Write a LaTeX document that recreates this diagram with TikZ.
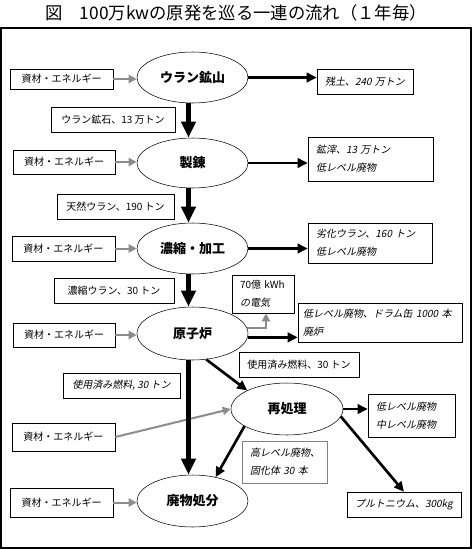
\documentclass[tikz,border=0pt]{standalone}
\usepackage{fontspec}
\usetikzlibrary{arrows.meta,shapes.geometric}
\newfontfamily\jp{Noto Sans CJK JP}
\newfontfamily\jpit[FakeSlant=0.2]{Noto Sans CJK JP}
\newdimen\pxu \pxu=0.75pt
\definecolor{flowgray}{RGB}{140,140,140}

\begin{document}
\begin{tikzpicture}[x=0.75pt,y=-0.75pt,
  stage/.style={draw, ellipse, inner sep=0pt, minimum width=111\pxu, minimum height=51\pxu, font=\jp\bfseries\fontsize{9.75}{11}\selectfont},
  box/.style={draw, inner sep=0pt, font=\jp\fontsize{7.5}{9}\selectfont},
  outbox/.style={draw, inner xsep=8\pxu, inner ysep=0pt, align=left, font=\jpit\fontsize{7.5}{13.5}\selectfont},
  mainflow/.style={line width=4pt, -{Triangle[width=10.5pt,length=12pt]}},
  waste/.style={line width=2pt, -{Triangle[width=7pt,length=7.5pt]}},
  feed/.style={draw=flowgray, line width=1.5pt, -{Triangle[width=6pt,length=6pt]}}]
\useasboundingbox (0,0) rectangle (473,550);
\node[font=\jp\fontsize{13}{15}\selectfont] (title) at (236,13) {図　100万kwの原発を巡る一連の流れ（１年毎）};
\draw[line width=0.9pt] (1,28) rectangle (471,548);

\node[stage] (1) at (192.5,77.5) {ウラン鉱山};
\node[stage, minimum height=50\pxu] (2) at (192.5,163) {製錬};
\node[stage] (3) at (192.5,248.5) {濃縮・加工};
\node[stage, minimum height=53\pxu] (4) at (192.5,333.5) {原子炉};
\node[stage, minimum width=112\pxu, minimum height=52\pxu] (5) at (287,409) {再処理};
\node[stage, minimum height=52\pxu] (6) at (192.5,501) {廃物処分};

\node[box, minimum width=103\pxu, minimum height=20\pxu] (s1) at (61.5,79) {資材・エネルギー};
\node[box, minimum width=102\pxu, minimum height=24\pxu] (s2) at (64,162) {資材・エネルギー};
\node[box, minimum width=103\pxu, minimum height=25\pxu] (s3) at (63.5,248.5) {資材・エネルギー};
\node[box, minimum width=102\pxu, minimum height=24\pxu] (s4) at (64,335) {資材・エネルギー};
\node[box, minimum width=103\pxu, minimum height=28\pxu] (s5) at (63.5,437) {資材・エネルギー};
\node[box, minimum width=103\pxu, minimum height=29\pxu] (s6) at (61.5,502.5) {資材・エネルギー};

\node[box, minimum width=124\pxu, minimum height=25\pxu] (f1) at (113,119.5) {ウラン鉱石、13 万トン};
\node[box, minimum width=117\pxu, minimum height=25\pxu] (f2) at (115.5,206.5) {天然ウラン、190 トン};
\node[box, minimum width=120\pxu, minimum height=25\pxu] (f3) at (114,290.5) {濃縮ウラン、30 トン};
\node[box, font=\jpit\fontsize{7.5}{9}\selectfont, minimum width=117\pxu, minimum height=25\pxu] (f4) at (121.5,385.5) {使用済み燃料, 30 トン};
\node[box, minimum width=120\pxu, minimum height=25\pxu] (f5) at (299,364.5) {使用済み燃料、30 トン};
\node[outbox, draw=gray, text width=69\pxu, minimum height=42\pxu] (f6) at (284.5,462) {高レベル廃物、\\固化体 30 本};

\node[outbox, text width=80\pxu, minimum height=25\pxu] (o1) at (365,81.5) {残土、240 万トン};
\node[outbox, text width=109\pxu, minimum height=44\pxu] (o2) at (370.5,159) {鉱滓、13 万トン\\低レベル廃物};
\node[outbox, text width=108\pxu, minimum height=40\pxu] (o3) at (370,243) {劣化ウラン、160 トン\\低レベル廃物};
\node[outbox, text width=46\pxu, minimum height=38\pxu] (o4) at (263,294) {{\jp 70億 kWh}\\の電気};
\node[outbox, inner xsep=5\pxu, text width=154\pxu, minimum height=39\pxu] (o5) at (380,322.5) {低レベル廃物、ドラム缶 1000 本\\廃炉};
\node[outbox, text width=71\pxu, minimum height=43\pxu] (o6) at (411.5,415.5) {低レベル廃物\\中レベル廃物};
\node[outbox, text width=98\pxu, minimum height=25\pxu] (o7) at (404,504.5) {プルトニウム、300kg};

\path[feed] (s1.east) -- (s1.east -| 1.west);
\path[feed] (s2.east) -- (s2.east -| 2.west);
\path[feed] (s3.east) -- (s3.east -| 3.west);
\path[feed] (s4.east) -- (s4.east -| 4.west);
\path[feed] (s5.east) -- (5.west);
\path[feed] (s6.east) -- (s6.east -| 6.west);
\path[feed] (4.6) -| ([xshift=3\pxu]o4.south);

\path[draw,mainflow] ([xshift=-4\pxu]1.south) -- ([xshift=-4\pxu]2.north);
\path[draw,mainflow] ([xshift=-4\pxu]2.south) -- ([xshift=-4\pxu]3.north);
\path[draw,mainflow] ([xshift=-4\pxu]3.south) -- ([xshift=-4\pxu]4.north);
\path[draw,mainflow] ([xshift=-4\pxu]4.south) -- ([xshift=-4\pxu]6.north);

\path[draw,waste] (1.east) -- (1.east -| o1.west);
\path[draw,waste] (2.east) -- (2.east -| o2.west);
\path[draw,waste] (3.east) -- (3.east -| o3.west);
\path[draw,waste] (4.-4) -- (4.-4 -| o5.west);
\path[draw,waste] (4.-62) -- (5.155);
\path[draw,waste] (5.east) -- (5.east -| o6.west);
\path[draw,waste] (5.-8) -- (o7.north);
\path[draw,waste] (5.202) -- (6.46);
\end{tikzpicture}
\end{document}
